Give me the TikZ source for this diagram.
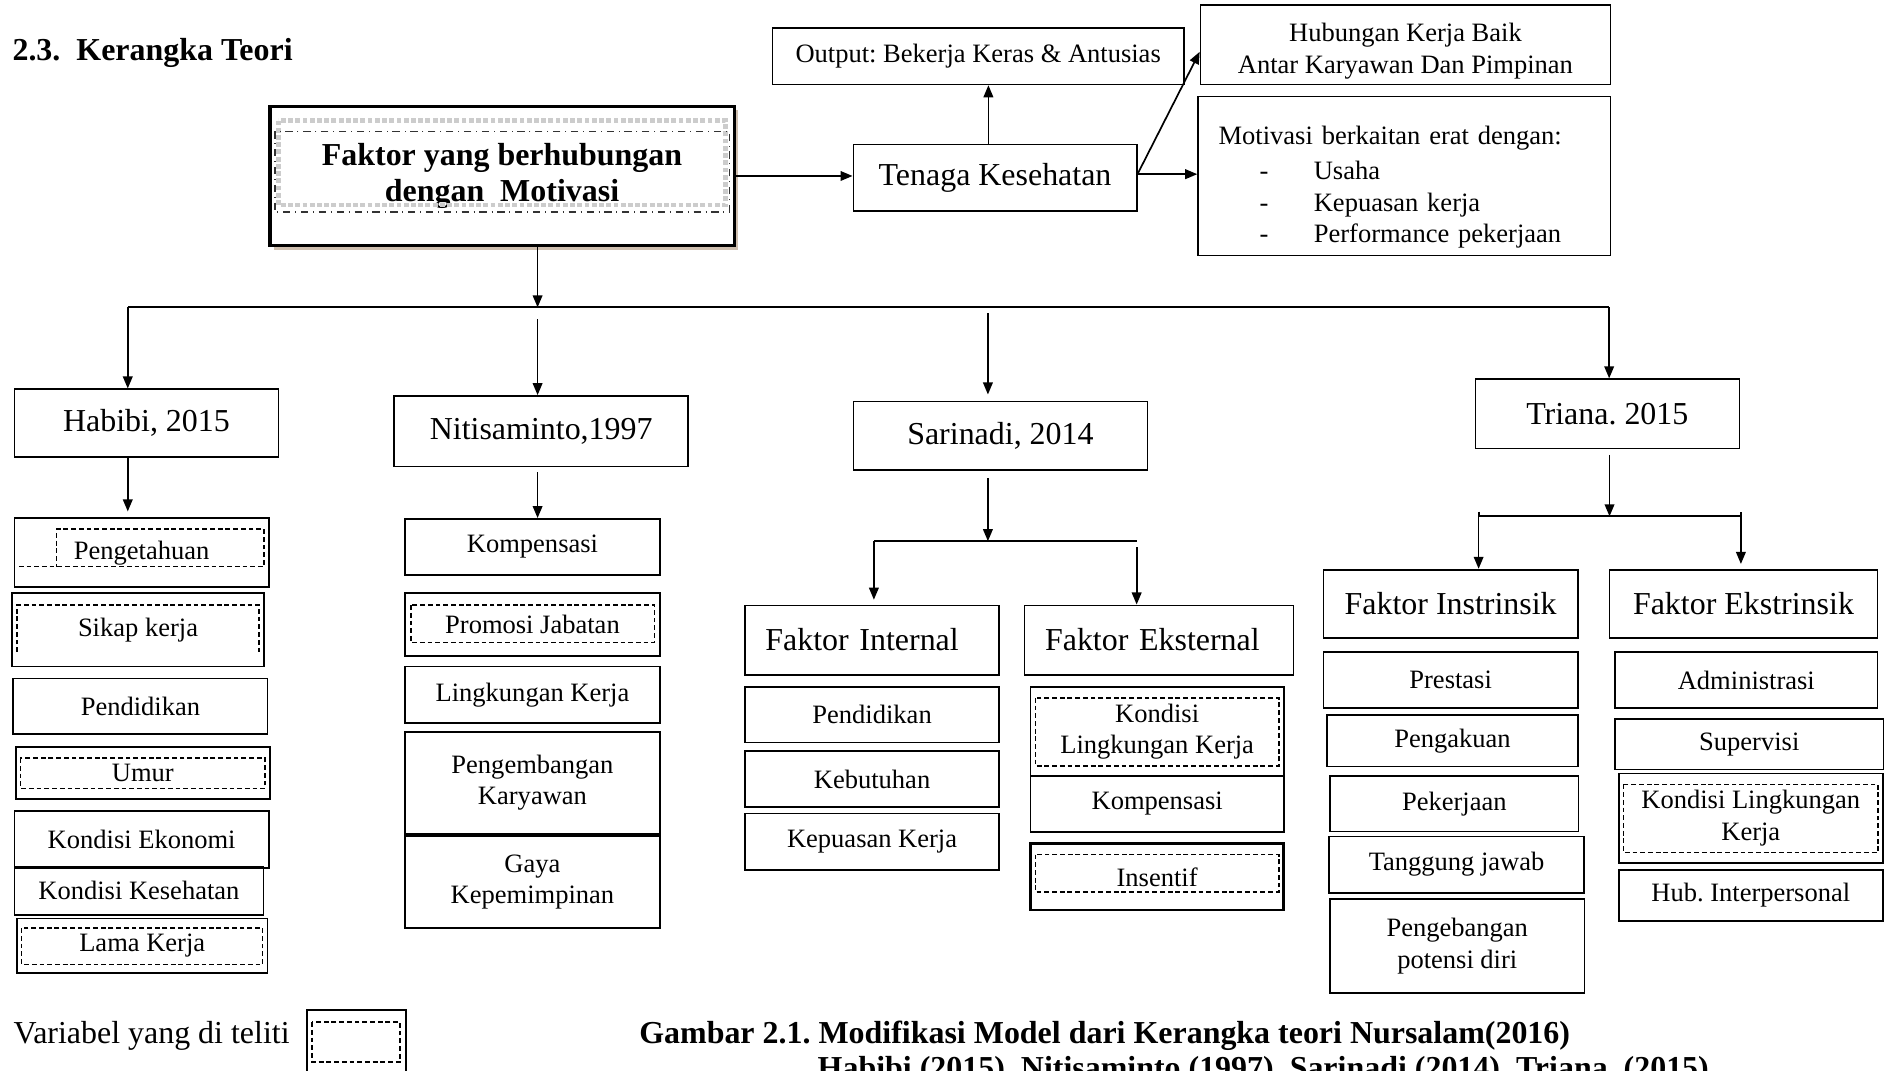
\documentclass[tikz,border=0pt]{standalone}
\usepackage{fontspec}
\setmainfont{Liberation Serif}
\usetikzlibrary{positioning, arrows.meta, shadows}
\newcommand{\fbig}{\fontsize{13.25}{15}\selectfont}
\newcommand{\fsmall}{\fontsize{11}{13}\selectfont}
\frenchspacing

\begin{document}
\begin{tikzpicture}[
    x=0.5pt, y=-0.5pt,
    box/.style={rectangle, draw, line width=0.7pt, inner sep=0pt, align=center, font=\fbig},
    item/.style={rectangle, draw, line width=0.7pt, inner sep=0pt, align=center, font=\fsmall},
    wh/.style 2 args={minimum width=#1pt, minimum height=#2pt},
    var/.style={line width=0.6pt, dash pattern=on 2pt off 1.2pt},
    arrow/.style={-{Triangle[length=5pt, width=4pt]}, line width=0.7pt},
    bus/.style={line width=0.9pt},
    label/.style={anchor=base west, inner sep=0pt, font=\fbig}
]
    \useasboundingbox (0,0) rectangle (1568,888);

    \node[label, font=\fbig\bfseries] (title) at (10,50) {2.3.\ \ Kerangka Teori};

    % top row
    \node[box, wh={192.5}{58}, line width=1.3pt, fill=white, font=\fbig\bfseries,
          drop shadow={shadow xshift=1.5pt, shadow yshift=-1.5pt, fill=brown!50!gray, opacity=0.5}]
          (main) at (416.5,146) {Faktor yang berhubungan\\dengan\ \ Motivasi};
    \draw[gray!40, densely dotted, line width=2pt] (231,100) rectangle (602,170);
    \draw[black!80, dash dot, line width=0.6pt] (228,109) rectangle (605,176);

    \node[box, wh={117.5}{27.5}] (tenaga) at (825.5,147.5) {Tenaga Kesehatan};
    \node[item, wh={170.5}{23.5}] (output) at (811.5,46.5) {Output: Bekerja Keras \& Antusias};
    \node[item, wh={170}{33}] (hubungan) at (1166,37) {\rule{0pt}{13pt}Hubungan Kerja Baik\\Antar Karyawan Dan Pimpinan};
    \node[item, wh={171}{66}, text width=154pt, align=left] (motivasi) at (1165,146) {%
        \rule{0pt}{17pt}Motivasi berkaitan erat dengan:\\[1.5pt]
        \makebox[39.5pt][l]{\hspace*{17pt}-}Usaha\\
        \makebox[39.5pt][l]{\hspace*{17pt}-}Kepuasan kerja\\
        \makebox[39.5pt][l]{\hspace*{17pt}-}Performance pekerjaan};

    % sources
    \node[box, wh={109.5}{28}] (habibi) at (121.5,351) {Habibi, 2015};
    \node[box, wh={122}{29.25}] (niti) at (449,357.75) {Nitisaminto,1997};
    \node[box, wh={122}{28.5}] (sari) at (830,361.5) {Sarinadi, 2014};
    \node[box, wh={109.5}{28.7}] (triana) at (1333.5,343.3) {Triana. 2015};

    % Habibi
    \node[item, wh={105.5}{28.5}] (peng) at (117.5,458.5) {Pengetahuan};
    \node[item, wh={104.5}{30.5}] (sikap) at (114.5,522.5) {Sikap kerja};
    \node[item, wh={105.5}{23}] (pend1) at (116.5,586) {Pendidikan};
    \node[item, wh={105.5}{21.5}] (umur) at (118.5,641.5) {Umur};
    \node[item, wh={105.5}{23.5}] (ekonomi) at (117.5,696.5) {Kondisi Ekonomi};
    \node[item, wh={103.25}{20}] (kesehatan) at (115.25,739) {Kondisi Kesehatan};
    \node[item, wh={104}{22.5}] (lama) at (118,784.5) {Lama Kerja};
    \draw[var] (15.6,470) -- (219,470) -- (219,439) -- (47,439) -- (47,470);
    \draw[var] (14,541) -- (14,502) -- (215,502) -- (215,541);
    \draw[var] (17,629) rectangle (220,654);
    \draw[var] (18,770) rectangle (218,800);

    % Nitisaminto
    \node[item, wh={105.75}{23.25}] (komp1) at (441.75,453.75) {Kompensasi};
    \node[item, wh={105.75}{26}] (promosi) at (441.75,518) {Promosi Jabatan};
    \node[item, wh={105.75}{23.5}] (lingk) at (441.75,576.5) {Lingkungan Kerja};
    \node[item, wh={105.75}{42.25}] (pengemb) at (441.75,649.5) {Pengembangan\\Karyawan};
    \node[item, wh={105.75}{38.25}] (gaya) at (441.75,731.75) {Gaya\\Kepemimpinan};
    \draw[var] (341,502) rectangle (543,533);

    % Sarinadi
    \node[box, wh={105.5}{28.75}, text width=88.5pt, align=left] (fint) at (723.5,531) {Faktor Internal};
    \node[box, wh={111.5}{28.75}, text width=94.5pt, align=left] (feks) at (961.5,531) {Faktor Eksternal};
    \node[item, wh={105.5}{23}] (pend2) at (723.5,593) {Pendidikan};
    \node[item, wh={105.5}{23.25}] (kebut) at (723.5,646.25) {Kebutuhan};
    \node[item, wh={105.5}{23.5}] (kepuasan) at (723.5,698.5) {Kepuasan Kerja};
    \node[item, wh={105}{37}] (kondisi1) at (960,607) {Kondisi\\Lingkungan Kerja};
    \node[item, wh={105}{23}] (komp2) at (960,667) {Kompensasi};
    \node[item, wh={105}{27.5}, line width=1.1pt] (insentif) at (960,727.5) {Insentif};
    \draw[var] (859,579) rectangle (1061,635.5);
    \draw[var] (859,709) rectangle (1061,740);

    % Triana
    \node[box, wh={105.5}{28.4}] (fins) at (1203.5,501) {Faktor Instrinsik};
    \node[box, wh={111.15}{28.4}] (feksr) at (1446.45,501) {Faktor Ekstrinsik};
    \node[item, wh={105.5}{23.25}] (prestasi) at (1203.5,564.25) {Prestasi};
    \node[item, wh={104}{21.5}] (pengakuan) at (1205,614.5) {Pengakuan};
    \node[item, wh={103}{22.85}] (pekerjaan) at (1206.5,666.85) {Pekerjaan};
    \node[item, wh={105.6}{23.3}] (tanggung) at (1208.4,717.3) {Tanggung jawab};
    \node[item, wh={105.5}{39}] (pengebangan) at (1209,785) {Pengebangan\\potensi diri};
    \node[item, wh={108.8}{23.25}] (admin) at (1448.8,564.25) {Administrasi};
    \node[item, wh={111.25}{20.85}] (supervisi) at (1451.25,617.45) {Supervisi};
    \node[item, wh={109.5}{37.15}] (kondisi2) at (1452.5,678.85) {Kondisi Lingkungan\\Kerja};
    \node[item, wh={109.5}{21}] (hubinter) at (1452.5,743) {Hub. Interpersonal};
    \draw[var] (1347,650.8) rectangle (1558,707.4);

    % connectors
    \coordinate (busL) at (106,255);
    \coordinate (busR) at (1335,255);
    \coordinate (hub) at (446,255);
    \coordinate (nitiIn) at (446,265);
    \coordinate (sariIn) at (819.6,260);
    \coordinate (sariJ) at (819.6,449);
    \coordinate (sariL) at (725,449);
    \coordinate (sariR) at (943,449);
    \coordinate (trianaJ) at (1335.3,428.4);
    \coordinate (trianaL) at (1226.7,428.4);
    \coordinate (trianaR) at (1444.3,428.4);

    \draw[arrow] (main.east) -- (main.east -| tenaga.west);
    \draw[arrow] ([xshift=-2.75pt]tenaga.north) -- ([xshift=-2.75pt]tenaga.north |- output.south);
    \draw[arrow] ([yshift=1.5pt]tenaga.east) -- ([yshift=-3pt]hubungan.west);
    \draw[arrow] ([yshift=1.5pt]tenaga.east) -- ([yshift=1.5pt]tenaga.east -| motivasi.west);

    \draw[bus] (busL) -- (busR);
    \draw[arrow] (main.south -| hub) -- (hub);
    \draw[arrow] (busL) -- (habibi.north -| busL);
    \draw[arrow] (nitiIn) -- (niti.north -| nitiIn);
    \draw[arrow, shorten >=2.5pt] (sariIn) -- (sari.north -| sariIn);
    \draw[arrow] (busR) -- (triana.north -| busR);

    \draw[arrow, shorten >=2.5pt] (habibi.south -| busL) -- (peng.north -| busL);
    \draw[arrow, shorten <=2pt] (niti.south -| nitiIn) -- (komp1.north -| nitiIn);

    \draw[arrow, shorten <=3pt] (sari.south -| sariJ) -- (sariJ);
    \draw[bus] (sariL) -- (sariR);
    \draw[arrow, shorten >=2pt] (sariL) -- (fint.north -| sariL);
    \draw[arrow, shorten <=2.5pt] (sariR) -- (feks.north -| sariR);

    \draw[arrow, shorten <=2.3pt] (triana.south -| trianaJ) -- (trianaJ);
    \draw[bus] ([yshift=2pt]trianaL) -- (trianaL) -- (trianaR) -- ([yshift=2pt]trianaR);
    \draw[arrow] (trianaL) -- (fins.north -| trianaL);
    \draw[arrow, shorten >=2pt] (trianaR) -- (feksr.north -| trianaR);

    % legend and caption
    \node[label] (legend) at (11,866) {Variabel yang di teliti};
    \node[draw, line width=0.8pt, wh={41}{26}, inner sep=0pt] (key) at (296,864) {};
    \draw[var] (259,848) rectangle (332,881);
    \node[label, font=\fbig\bfseries] (caption) at (530,866) {Gambar 2.1. Modifikasi Model dari Kerangka teori Nursalam(2016)};
    \node[label, font=\fbig\bfseries] (cite) at (678,895) {Habibi (2015), Nitisaminto (1997), Sarinadi (2014), Triana, (2015)};
\end{tikzpicture}
\end{document}
